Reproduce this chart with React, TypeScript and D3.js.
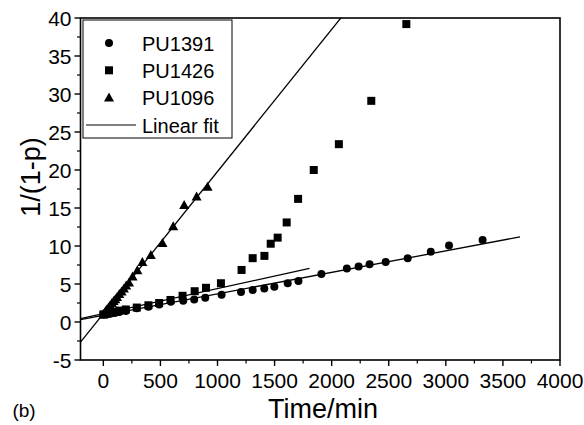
import React from "react";
import * as d3 from "d3";

const pu1391Time = [0, 30, 60, 100, 140, 197, 293, 395, 489, 591, 700, 796, 893, 1036, 1206, 1308, 1410, 1498, 1615, 1709, 1910, 2133, 2236, 2332, 2473, 2666, 2868, 3028, 3322];
const pu1391Val = [1.0, 1.05, 1.1, 1.2, 1.3, 1.45, 1.8, 2.0, 2.3, 2.65, 2.8, 2.95, 3.2, 3.6, 3.95, 4.2, 4.4, 4.65, 5.1, 5.4, 6.3, 7.05, 7.3, 7.6, 7.9, 8.4, 9.25, 10.05, 10.8];

const pu1426Time = [0, 30, 60, 100, 140, 197, 293, 395, 489, 588, 694, 800, 899, 1030, 1211, 1308, 1411, 1466, 1527, 1606, 1706, 1843, 2063, 2347, 2654];
const pu1426Val = [1.0, 1.1, 1.2, 1.35, 1.5, 1.65, 1.9, 2.2, 2.5, 2.9, 3.45, 4.05, 4.5, 5.1, 6.85, 8.4, 8.7, 10.3, 11.1, 13.1, 16.2, 20.0, 23.4, 29.1, 39.2];

const pu1096Time = [0, 10, 20, 30, 45, 60, 75, 90, 105, 120, 140, 160, 180, 200, 225, 256, 298, 342, 416, 518, 612, 708, 817, 913];
const pu1096Val = [1.0, 1.2, 1.45, 1.65, 1.9, 2.2, 2.5, 2.75, 3.0, 3.3, 3.7, 4.0, 4.4, 4.8, 5.2, 6.0, 6.8, 7.9, 8.8, 10.4, 12.6, 15.4, 16.5, 17.8];

// linear fits
const fitIntercepts = [0.87, 1.1, 1.1];
const fitSlopes = [0.00283, 0.0033, 0.0187];
const fitStarts = [-200, -200, -200];
const fitEnds = [3650, 1806, 2100];

const seriesNames = ["PU1391", "PU1426", "PU1096"];
const xTicksMajor = [0, 500, 1000, 1500, 2000, 2500, 3000, 3500, 4000];
const yTicksMajor = [-5, 0, 5, 10, 15, 20, 25, 30, 35, 40];

const L = 80.5, R = 560, T = 18, B = 360;
const FONT = "Arial, 'Liberation Sans', Helvetica, sans-serif";

function Marker({ kind, x, y }: { kind: number; x: number; y: number }) {
  if (kind === 0) return <circle cx={x} cy={y} r={4} fill="#000" />;
  if (kind === 1) return <rect x={x - 4} y={y - 4} width={8} height={8} fill="#000" />;
  const s = 5;
  return <path d={`M${x},${y - s}L${x + s},${y + s * 0.8}L${x - s},${y + s * 0.8}Z`} fill="#000" />;
}

export default function App() {
  const x = d3.scaleLinear().domain([-200, 4000]).range([L, R]);
  const y = d3.scaleLinear().domain([-5, 40]).range([B, T]);

  const xMinor = d3.range(250, 4000, 500);
  const yMinor = d3.range(-2.5, 40, 5);

  const series = [
    { t: pu1391Time, v: pu1391Val },
    { t: pu1426Time, v: pu1426Val },
    { t: pu1096Time, v: pu1096Val },
  ];

  const line = d3.line<[number, number]>().x((d) => x(d[0])).y((d) => y(d[1]));

  return (
    <svg width={584} height={425} style={{ display: "block", position: "absolute", left: 0, top: 0, background: "#fff" }}>
      <defs>
        <clipPath id="plotclip">
          <rect x={L} y={T} width={R - L} height={B - T} />
        </clipPath>
      </defs>
      <rect x={0} y={0} width={584} height={425} fill="#fff" />

      <g clipPath="url(#plotclip)">
        {fitSlopes.map((m, i) => (
          <path
            key={i}
            d={line([
              [fitStarts[i], fitIntercepts[i] + m * fitStarts[i]],
              [fitEnds[i], fitIntercepts[i] + m * fitEnds[i]],
            ]) || ""}
            stroke="#000"
            strokeWidth={1.3}
            fill="none"
          />
        ))}
      </g>

      {series.map((s, k) => (
        <g key={k}>
          {s.t.map((t, i) => (
            <Marker key={i} kind={k} x={x(t)} y={y(s.v[i])} />
          ))}
        </g>
      ))}

      <rect x={L} y={T} width={R - L} height={B - T} fill="none" stroke="#000" strokeWidth={1.6} />

      {xTicksMajor.map((t) => (
        <g key={t}>
          <line x1={x(t)} x2={x(t)} y1={B} y2={B + 6} stroke="#000" strokeWidth={1.4} />
          <text x={x(t)} y={B + 28} textAnchor="middle" fontSize={21} fontFamily={FONT}>
            {t}
          </text>
        </g>
      ))}
      {xMinor.map((t) => (
        <line key={t} x1={x(t)} x2={x(t)} y1={B} y2={B + 3.5} stroke="#000" strokeWidth={1.2} />
      ))}

      {yTicksMajor.map((v) => (
        <g key={v}>
          <line x1={L - 6} x2={L} y1={y(v)} y2={y(v)} stroke="#000" strokeWidth={1.4} />
          <text x={L - 9} y={y(v) + 7.5} textAnchor="end" fontSize={21} fontFamily={FONT}>
            {v}
          </text>
        </g>
      ))}
      {yMinor.map((v) => (
        <line key={v} x1={L - 3.5} x2={L} y1={y(v)} y2={y(v)} stroke="#000" strokeWidth={1.2} />
      ))}

      <text x={323} y={418} textAnchor="middle" fontSize={27} fontFamily={FONT}>
        Time/min
      </text>
      <text x={24} y={417} textAnchor="middle" fontSize={19} fontFamily={FONT}>
        (b)
      </text>
      <text
        transform={`translate(40,${(T + B) / 2 - 12}) rotate(-90)`}
        textAnchor="middle"
        fontSize={27}
        fontFamily={FONT}
      >
        1/(1-p)
      </text>

      <g>
        <rect x={83} y={20} width={149} height={118} fill="#fff" stroke="#000" strokeWidth={1} />
        {seriesNames.map((n, i) => (
          <g key={n}>
            <Marker kind={i} x={109} y={43 + i * 27.3} />
            <text x={142} y={43 + i * 27.3 + 7.5} fontSize={20} fontFamily={FONT}>
              {n}
            </text>
          </g>
        ))}
        <line x1={86} x2={136} y1={125} y2={125} stroke="#000" strokeWidth={1.2} />
        <text x={142} y={132.5} fontSize={20} fontFamily={FONT}>
          Linear fit
        </text>
      </g>
    </svg>
  );
}
